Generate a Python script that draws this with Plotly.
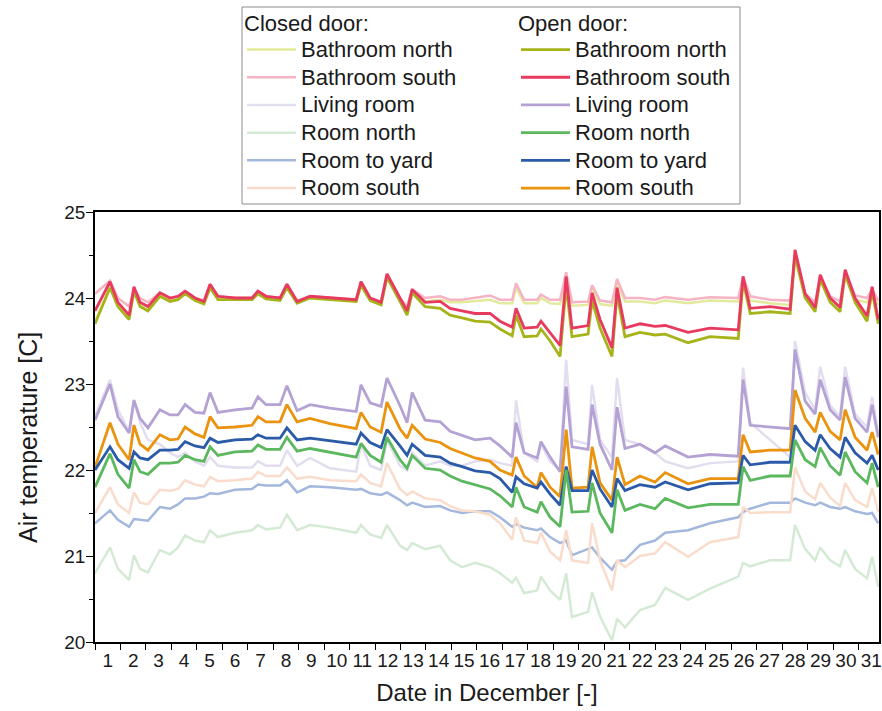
import plotly.graph_objects as go

# Time in days since 1 December 00:00
DAYS = [
    0.00, 0.59, 0.90, 1.34, 1.53,
    1.77, 2.08, 2.55, 2.95, 3.26,
    3.54, 3.93, 4.28, 4.52, 4.83,
    5.50, 6.17, 6.40, 6.72, 7.27,
    7.54, 7.94, 8.45, 9.23, 10.26,
    10.45, 10.81, 11.24, 11.47, 11.98,
    12.26, 12.46, 12.97, 13.56, 13.95,
    14.42, 14.93, 15.52, 15.91, 16.39,
    16.54, 16.86, 17.37, 17.52, 17.88,
    18.27, 18.51, 18.74, 19.37, 19.53,
    19.84, 20.31, 20.51, 20.82, 21.41,
    22.00, 22.40, 23.30, 24.16, 25.27,
    25.46, 25.74, 26.52, 27.31, 27.50,
    27.90, 28.29, 28.49, 28.88, 29.27,
    29.47, 29.86, 30.33, 30.53, 30.77,
]

ROOMS = ["Bathroom north", "Bathroom south", "Living room",
         "Room north", "Room to yard", "Room south"]

# ---- Closed door ----
closed_bathroom_north = [
    23.72, 24.14, 23.92, 23.77, 24.10,
    23.92, 23.87, 24.03, 23.97, 23.99,
    24.06, 23.98, 23.94, 24.13, 23.99,
    23.99, 23.99, 24.06, 24.00, 23.98,
    24.13, 23.95, 24.01, 23.99, 23.97,
    24.16, 23.98, 23.93, 24.25, 23.97,
    23.88, 24.07, 23.96, 23.98, 23.95,
    23.95, 23.96, 23.98, 23.94, 23.94,
    24.12, 23.94, 23.94, 24.00, 23.94,
    23.93, 24.25, 23.91, 23.92, 24.10,
    23.93, 23.91, 24.17, 23.96, 23.96,
    23.94, 23.97, 23.94, 23.97, 23.96,
    24.20, 23.97, 23.94, 23.92, 24.45,
    24.00, 23.90, 24.20, 23.97, 23.91,
    24.25, 23.98, 23.95, 24.05, 23.92,
]
closed_bathroom_south = [
    24.05, 24.20, 24.00, 23.90, 24.10,
    24.00, 23.95, 24.06, 24.00, 24.02,
    24.08, 24.00, 23.97, 24.16, 24.02,
    24.00, 24.00, 24.08, 24.02, 24.00,
    24.16, 23.97, 24.02, 24.00, 23.98,
    24.19, 24.00, 23.96, 24.28, 24.00,
    23.90, 24.10, 24.00, 24.02, 23.98,
    23.98, 24.00, 24.03, 23.98, 23.98,
    24.17, 23.98, 23.98, 24.04, 23.98,
    23.98, 24.30, 23.95, 23.96, 24.15,
    23.97, 23.95, 24.22, 24.00, 24.00,
    23.98, 24.01, 23.98, 24.01, 24.00,
    24.25, 24.02, 23.98, 23.97, 24.50,
    24.05, 23.95, 24.25, 24.02, 23.96,
    24.30, 24.03, 24.00, 24.10, 23.97,
]
closed_living_room = [
    22.62, 23.05, 22.70, 22.45, 22.82,
    22.55, 22.35, 22.30, 22.20, 22.15,
    22.20, 22.10, 22.05, 22.15, 22.05,
    22.03, 22.03, 22.10, 22.05, 22.05,
    22.23, 22.05, 22.14, 22.02, 21.98,
    22.30, 22.05, 22.00, 22.35, 22.05,
    22.00, 22.20, 22.05, 22.10, 22.05,
    22.05, 22.10, 22.12, 22.08, 22.05,
    22.81, 22.20, 22.10, 22.30, 22.10,
    22.00, 23.28, 22.35, 22.30, 22.99,
    22.35, 22.15, 23.07, 22.35, 22.30,
    22.20, 22.10, 22.02, 22.08, 22.10,
    23.19, 22.55, 22.35, 22.15, 23.50,
    22.90, 22.70, 23.20, 22.75, 22.62,
    23.20, 22.65, 22.50, 22.85, 22.42,
]
closed_room_north = [
    20.80, 21.10, 20.85, 20.72, 21.01,
    20.85, 20.81, 21.07, 21.02, 21.10,
    21.24, 21.18, 21.16, 21.30, 21.22,
    21.27, 21.30, 21.36, 21.31, 21.33,
    21.48, 21.30, 21.36, 21.33, 21.27,
    21.36, 21.25, 21.21, 21.36, 21.12,
    21.07, 21.15, 21.08, 21.12, 20.95,
    20.87, 20.92, 20.87, 20.80, 20.69,
    20.75, 20.57, 20.60, 20.76, 20.60,
    20.49, 20.80, 20.29, 20.35, 20.58,
    20.30, 20.02, 20.27, 20.17, 20.37,
    20.43, 20.63, 20.49, 20.62, 20.76,
    20.92, 20.88, 20.95, 20.95, 21.36,
    21.08, 20.95, 21.10, 20.95, 20.88,
    21.07, 20.85, 20.74, 20.99, 20.64,
]
closed_room_to_yard = [
    21.38, 21.53, 21.42, 21.34, 21.43,
    21.42, 21.41, 21.57, 21.55, 21.60,
    21.67, 21.67, 21.69, 21.73, 21.72,
    21.77, 21.78, 21.83, 21.82, 21.82,
    21.88, 21.74, 21.81, 21.80, 21.77,
    21.78, 21.73, 21.71, 21.74, 21.65,
    21.59, 21.62, 21.57, 21.58, 21.53,
    21.50, 21.52, 21.52, 21.45, 21.34,
    21.37, 21.33, 21.30, 21.32, 21.22,
    21.15, 21.18, 21.01, 21.08, 21.10,
    20.98, 20.84, 20.94, 20.95, 21.13,
    21.18, 21.27, 21.30, 21.38, 21.45,
    21.51, 21.55, 21.62, 21.62, 21.67,
    21.62, 21.59, 21.62, 21.57, 21.55,
    21.57, 21.52, 21.49, 21.50, 21.38,
]
closed_room_south = [
    21.50, 21.80, 21.60, 21.50, 21.74,
    21.62, 21.60, 21.77, 21.76, 21.78,
    21.88, 21.83, 21.81, 21.92, 21.87,
    21.88, 21.90, 21.98, 21.93, 21.93,
    22.03, 21.90, 21.92, 21.88, 21.87,
    21.95, 21.85, 21.81, 22.08, 21.78,
    21.71, 21.75, 21.67, 21.65, 21.58,
    21.53, 21.52, 21.48, 21.38, 21.19,
    21.45, 21.18, 21.15, 21.27, 21.05,
    20.95, 21.30, 20.95, 20.92, 21.38,
    20.95, 20.60, 20.95, 20.87, 21.00,
    21.03, 21.16, 20.99, 21.16, 21.22,
    21.57, 21.50, 21.51, 21.51, 22.03,
    21.75, 21.66, 21.85, 21.68, 21.58,
    21.85, 21.65, 21.57, 21.79, 21.51,
]

# ---- Open door ----
open_bathroom_north = [
    23.70, 24.12, 23.90, 23.75, 24.08,
    23.90, 23.85, 24.02, 23.96, 23.98,
    24.05, 23.97, 23.93, 24.12, 23.98,
    23.98, 23.98, 24.05, 23.99, 23.97,
    24.12, 23.94, 24.00, 23.98, 23.96,
    24.15, 23.97, 23.92, 24.24, 23.96,
    23.80, 24.06, 23.90, 23.88, 23.80,
    23.77, 23.73, 23.72, 23.64, 23.56,
    23.80, 23.55, 23.56, 23.64, 23.50,
    23.32, 24.15, 23.55, 23.58, 23.97,
    23.65, 23.32, 24.05, 23.55, 23.60,
    23.57, 23.58, 23.48, 23.55, 23.53,
    24.20, 23.82, 23.84, 23.82, 24.50,
    24.00, 23.84, 24.22, 23.95, 23.84,
    24.28, 23.95, 23.73, 24.08, 23.70,
]
open_bathroom_south = [
    23.85, 24.19, 23.95, 23.80, 24.13,
    23.95, 23.90, 24.06, 24.00, 24.02,
    24.08, 24.00, 23.96, 24.16, 24.02,
    24.00, 24.00, 24.08, 24.02, 24.00,
    24.16, 23.96, 24.02, 24.00, 23.98,
    24.19, 24.00, 23.95, 24.28, 24.00,
    23.85, 24.10, 23.95, 23.96, 23.88,
    23.85, 23.82, 23.82, 23.73, 23.66,
    23.88, 23.65, 23.66, 23.73, 23.60,
    23.45, 24.25, 23.65, 23.68, 24.06,
    23.75, 23.42, 24.12, 23.65, 23.70,
    23.67, 23.68, 23.60, 23.65, 23.63,
    24.25, 23.88, 23.90, 23.87, 24.56,
    24.05, 23.89, 24.27, 24.00, 23.89,
    24.33, 24.00, 23.79, 24.13, 23.75,
]
open_living_room = [
    22.58, 23.00, 22.62, 22.43, 22.81,
    22.60, 22.49, 22.70, 22.64, 22.64,
    22.76, 22.67, 22.66, 22.90, 22.67,
    22.70, 22.72, 22.85, 22.76, 22.76,
    22.98, 22.69, 22.76, 22.72, 22.68,
    22.99, 22.78, 22.74, 23.07, 22.75,
    22.55, 22.90, 22.58, 22.56, 22.45,
    22.40, 22.35, 22.37, 22.28, 22.15,
    22.55, 22.20, 22.14, 22.33, 22.15,
    21.98, 22.97, 22.27, 22.24, 22.76,
    22.30, 22.00, 22.73, 22.25, 22.30,
    22.20, 22.28, 22.15, 22.18, 22.16,
    23.05, 22.52, 22.50, 22.48, 23.40,
    22.80, 22.65, 23.05, 22.70, 22.58,
    23.08, 22.60, 22.44, 22.76, 22.38,
]
open_room_north = [
    21.80, 22.19, 21.95, 21.79, 22.12,
    21.98, 21.95, 22.08, 22.08, 22.09,
    22.17, 22.12, 22.10, 22.27, 22.17,
    22.21, 22.22, 22.29, 22.24, 22.24,
    22.38, 22.22, 22.25, 22.21, 22.15,
    22.31, 22.17, 22.09, 22.38, 22.12,
    22.02, 22.17, 22.02, 22.00, 21.93,
    21.87, 21.83, 21.78, 21.70, 21.57,
    21.80, 21.57, 21.51, 21.63, 21.45,
    21.34, 22.00, 21.51, 21.52, 21.85,
    21.50, 21.27, 21.77, 21.53, 21.60,
    21.55, 21.67, 21.56, 21.60, 21.60,
    22.04, 21.88, 21.93, 21.93, 22.35,
    22.12, 22.04, 22.26, 22.05, 21.94,
    22.21, 21.98, 21.85, 22.08, 21.80,
]
open_room_to_yard = [
    22.00, 22.27, 22.12, 22.02, 22.21,
    22.14, 22.12, 22.23, 22.23, 22.24,
    22.33, 22.28, 22.26, 22.37, 22.32,
    22.35, 22.36, 22.41, 22.37, 22.37,
    22.49, 22.35, 22.37, 22.34, 22.30,
    22.43, 22.32, 22.26, 22.47, 22.28,
    22.17, 22.30, 22.17, 22.15, 22.08,
    22.04, 21.99, 21.97, 21.90, 21.74,
    21.92, 21.84, 21.79, 21.86, 21.72,
    21.59, 22.04, 21.76, 21.76, 22.00,
    21.78, 21.57, 21.90, 21.76, 21.83,
    21.80, 21.86, 21.77, 21.84, 21.85,
    22.17, 22.06, 22.09, 22.09, 22.52,
    22.33, 22.23, 22.41, 22.25, 22.15,
    22.38, 22.20, 22.08, 22.17, 22.00,
]
open_room_south = [
    22.03, 22.55, 22.30, 22.12, 22.52,
    22.30, 22.23, 22.41, 22.35, 22.36,
    22.50, 22.42, 22.38, 22.62, 22.49,
    22.50, 22.52, 22.62, 22.56, 22.56,
    22.76, 22.56, 22.60, 22.54, 22.48,
    22.67, 22.50, 22.44, 22.79, 22.48,
    22.37, 22.52, 22.36, 22.32, 22.25,
    22.20, 22.14, 22.10, 22.00, 21.94,
    22.15, 21.93, 21.80, 21.97, 21.80,
    21.69, 22.47, 21.79, 21.80, 22.27,
    21.85, 21.65, 22.15, 21.83, 21.93,
    21.86, 21.97, 21.84, 21.90, 21.90,
    22.41, 22.21, 22.23, 22.23, 22.93,
    22.60, 22.44, 22.67, 22.45, 22.35,
    22.70, 22.38, 22.23, 22.44, 22.18,
]

DAY_LABELS = [str(d) for d in range(1, 32)]

CLOSED = [closed_bathroom_north, closed_bathroom_south, closed_living_room,
          closed_room_north, closed_room_to_yard, closed_room_south]
OPEN = [open_bathroom_north, open_bathroom_south, open_living_room,
        open_room_north, open_room_to_yard, open_room_south]

CLOSED_COLORS = ["#e3ea9c", "#f6b3c4", "#e2ddef", "#d5ead5", "#a3b8dc", "#f9dccb"]
OPEN_COLORS = ["#a6b41a", "#e8395e", "#b3a2d3", "#5cb85f", "#2b5ba8", "#ea930f"]

FONT = "Arial, Liberation Sans, sans-serif"
LEG_TXT = "<span style='font-size:22px'>%s</span>"

fig = go.Figure()
for i, (name, vals, col) in enumerate(zip(ROOMS, CLOSED, CLOSED_COLORS)):
    fig.add_trace(go.Scatter(x=DAYS, y=vals, mode="lines", name=LEG_TXT % name,
                             line=dict(color=col, width=2.5), legend="legend",
                             legendrank=i + 1))
for i in [2, 5, 4, 3, 0, 1]:
    fig.add_trace(go.Scatter(x=DAYS, y=OPEN[i], mode="lines", name=LEG_TXT % ROOMS[i],
                             line=dict(color=OPEN_COLORS[i], width=2.8),
                             legend="legend2", legendrank=i + 1))

W, H = 882, 711
L, R, T, B = 95, 3, 212, 69
pw, ph = W - L - R, H - T - B


def px(sx):
    return (sx - L) / pw


def py(sy):
    return (H - B - sy) / ph


legend_common = dict(
    xanchor="left", yanchor="top", bgcolor="rgba(0,0,0,0)",
    font=dict(family=FONT, size=19, color="#1a1a1a"),
    tracegroupgap=0, itemwidth=49, traceorder="normal",
)

fig.update_layout(
    width=W, height=H,
    margin=dict(l=L, r=R, t=T, b=B, autoexpand=False),
    paper_bgcolor="white", plot_bgcolor="white",
    font=dict(family=FONT, color="#1a1a1a"),
    showlegend=True,
    legend=dict(title=dict(text=LEG_TXT % "Closed door:", font=dict(family=FONT, size=19)),
                x=px(242), y=py(6), **legend_common),
    legend2=dict(title=dict(text=LEG_TXT % "Open door:", font=dict(family=FONT, size=19)),
                 x=px(516), y=py(6), **legend_common),
    shapes=[dict(type="rect", xref="paper", yref="paper",
                 x0=px(242), x1=px(740), y0=py(204), y1=py(7),
                 line=dict(color="#8c8c8c", width=1), fillcolor="rgba(0,0,0,0)")],
    annotations=[dict(text="Air temperature [C]", xref="paper", yref="paper",
                      x=px(28), y=py(438), xanchor="center", yanchor="middle",
                      textangle=-90, showarrow=False,
                      font=dict(family=FONT, size=25, color="#1a1a1a"))],
    xaxis=dict(
        range=[0, 30.8], showgrid=False, zeroline=False,
        showline=True, linecolor="black", linewidth=1.5, mirror=True,
        tickmode="array", tickvals=[d + 0.5 for d in range(31)], ticktext=DAY_LABELS,
        ticks="",
        tickfont=dict(family=FONT, size=19, color="#1a1a1a"),
        minor=dict(tickmode="array", tickvals=list(range(0, 31)), ticks="outside",
                   ticklen=6, tickwidth=1.3, tickcolor="black", showgrid=False),
        title=dict(text="Date in December [-]", font=dict(family=FONT, size=24), standoff=15),
        automargin=False,
    ),
    yaxis=dict(
        range=[20, 25], showgrid=False, zeroline=False,
        showline=True, linecolor="black", linewidth=1.5, mirror=True,
        tickmode="array", tickvals=[20, 21, 22, 23, 24, 25],
        ticks="outside", ticklen=7, tickwidth=1.3, tickcolor="black",
        ticklabelstandoff=-3,
        tickfont=dict(family=FONT, size=19, color="#1a1a1a"),
        minor=dict(dtick=0.5, ticks="outside", ticklen=4, tickwidth=1.3,
                   tickcolor="black", showgrid=False),
        automargin=False,
    ),
)

# remove the default 8px page margin so the figure sits at the window's origin
fig.write_html("out.html", config={"displayModeBar": False},
               post_script="document.body.style.margin='0';")
